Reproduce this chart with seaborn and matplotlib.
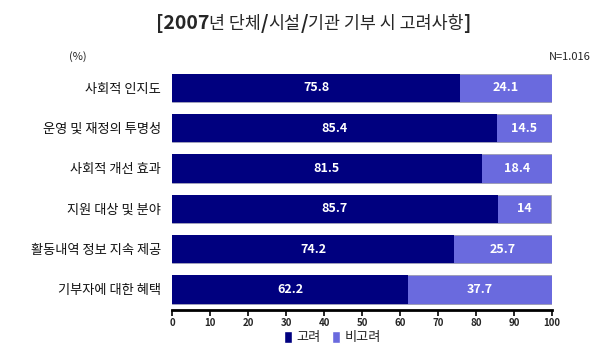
import matplotlib
matplotlib.use("Agg")
import matplotlib.pyplot as plt
import seaborn as sns
import pandas as pd
from matplotlib.patches import Patch

categories = ["사회적 인지도", "운영 및 재정의 투명성", "사회적 개선 효과",
              "지원 대상 및 분야", "활동내역 정보 지속 제공", "기부자에 대한 혜택"]
consider = [75.8, 85.4, 81.5, 85.7, 74.2, 62.2]
not_consider = [24.1, 14.5, 18.4, 14, 25.7, 37.7]
xticks = [0, 10, 20, 30, 40, 50, 60, 70, 80, 90, 100]

sns.set_theme(style="white")
plt.rcParams['font.family'] = ['Noto Sans CJK KR', 'DejaVu Sans']

dark = "#00007f"
light = "#6a6ade"

df = pd.DataFrame({"cat": categories, "c": consider, "n": not_consider})
df["total"] = df["c"] + df["n"]

fig = plt.figure(figsize=(6.1, 3.6), dpi=100)
ax = fig.add_axes([0.282, 0.140, 0.623, 0.672])

sns.barplot(data=df, y="cat", x="total", color=light, orient="h", ax=ax,
            width=0.70, saturation=1, edgecolor="#9a9ab0", linewidth=0.6)
sns.barplot(data=df, y="cat", x="c", color=dark, orient="h", ax=ax,
            width=0.70, saturation=1, edgecolor="none")

for i, (c, n) in enumerate(zip(consider, not_consider)):
    ax.text(c / 2, i, f"{c:g}", ha="center", va="center", color="white",
            fontsize=9, fontweight="bold")
    ax.text(c + n / 2, i, f"{n:g}", ha="center", va="center", color="white",
            fontsize=9, fontweight="bold")

ax.set_xlim(0, 100)
ax.set_ylim(5.5, -0.5)
ax.set_xticks(xticks)
ax.set_xticklabels([str(t) for t in xticks], fontsize=7, fontweight="bold")
ax.set_ylabel("")
ax.set_xlabel("")
ax.tick_params(axis="y", length=0, labelsize=9.5, pad=8, labelcolor="#111111")
ax.tick_params(axis="x", bottom=True, length=4, width=1.2, color="black", pad=2)
for s in ["top", "right", "left"]:
    ax.spines[s].set_visible(False)
ax.spines["bottom"].set_color("black")
ax.spines["bottom"].set_linewidth(2)

# title pieces
t1 = fig.text(0.255, 0.935, "[2007", fontsize=14, fontweight="bold", va="center")
t2 = ax.annotate("년 단체", xy=(1, 0), xycoords=t1, fontsize=12.5, va="bottom")
t3 = ax.annotate("/", xy=(1, 0), xycoords=t2, fontsize=14, fontweight="bold", va="bottom")
t4 = ax.annotate("시설", xy=(1, 0), xycoords=t3, fontsize=12.5, va="bottom")
t5 = ax.annotate("/", xy=(1, 0), xycoords=t4, fontsize=14, fontweight="bold", va="bottom")
t6 = ax.annotate("기관 기부 시 고려사항", xy=(1, 0), xycoords=t5, fontsize=12.5, va="bottom")
t7 = ax.annotate("]", xy=(1, 0), xycoords=t6, fontsize=14, fontweight="bold", va="bottom")

fig.text(0.128, 0.843, "(%)", fontsize=8, ha="center", va="center")
fig.text(0.968, 0.843, "N=1.016", fontsize=8, ha="right", va="center")

handles = [Patch(facecolor=dark, label="고려"), Patch(facecolor=light, label="비고려")]
fig.legend(handles=handles, loc="center", bbox_to_anchor=(0.545, 0.062), ncol=2,
           frameon=False, fontsize=9.5, handlelength=0.6, handleheight=1.0,
           handletextpad=0.4, columnspacing=0.8)

fig.savefig("out.png", dpi=100, facecolor="white")
